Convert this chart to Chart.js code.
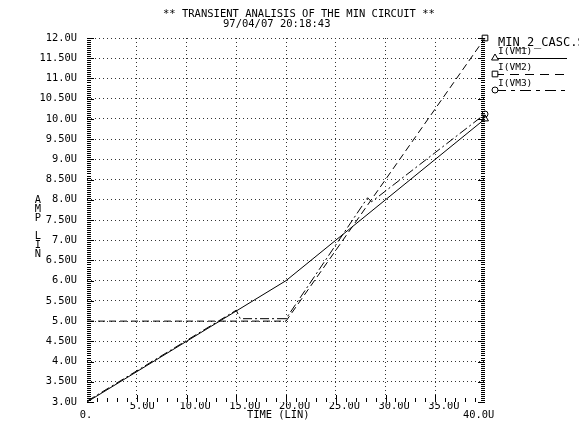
<!DOCTYPE html>
<html>
<head>
<meta charset="utf-8">
<script src="https://cdn.jsdelivr.net/npm/chart.js@4.4.1/dist/chart.umd.min.js"></script>
<style>
  html, body { margin: 0; padding: 0; background: #fff; }
  #wrap { width: 579px; height: 422px; }
</style>
</head>
<body>
<div id="wrap"><canvas id="plot"></canvas></div>
<script>
// time in microseconds, current in microamps
const timeVM1 = [0, 20, 40];
const ampVM1 = [3.0, 6.0, 10.0];
const timeVM2 = [0, 20, 40];
const ampVM2 = [5.0, 5.0, 12.0];
const timeVM3 = [0, 15, 15.4, 20, 28.2, 28.6, 40];
const ampVM3 = [3.02, 5.27, 5.06, 5.06, 8.05, 7.95, 10.12];

const xTickValues = [0, 5, 10, 15, 20, 25, 30, 35, 40];
const xTickLabels = ['0.', '5.0U', '10.0U', '15.0U', '20.0U', '25.0U', '30.0U', '35.0U', '40.0U'];
const yTickValues = [3, 3.5, 4, 4.5, 5, 5.5, 6, 6.5, 7, 7.5, 8, 8.5, 9, 9.5, 10, 10.5, 11, 11.5, 12];
const yTickLabels = ['3.0U', '3.50U', '4.0U', '4.50U', '5.0U', '5.50U', '6.0U', '6.50U', '7.0U', '7.50U',
  '8.0U', '8.50U', '9.0U', '9.50U', '10.0U', '10.50U', '11.0U', '11.50U', '12.0U'];

const titleLines = ['** TRANSIENT ANALISIS OF THE MIN CIRCUIT **', '97/04/07 20:18:43'];
const xTitle = 'TIME (LIN)';
const yTitle = ['A', 'M', 'P', '', 'L', 'I', 'N'];
const fileName = 'MIN_2_CASC.SW0';
const seriesNames = ['I(VM1)', 'I(VM2)', 'I(VM3)'];

const MONO = '"DejaVu Sans Mono", monospace';

function pts(t, a) {
  return t.map((v, i) => ({ x: v, y: a[i] }));
}
function endMarker(n, r) {
  return Array.from({ length: n }, (_, i) => (i === n - 1 ? r : 0));
}

const seriesStyle = [
  { dash: [], point: 'triangle', r: 4 },
  { dash: [7, 4], point: 'rect', r: 4 },
  { dash: [9, 3, 2, 3], point: 'circle', r: 3 }
];

const datasets = [
  pts(timeVM1, ampVM1),
  pts(timeVM2, ampVM2),
  pts(timeVM3, ampVM3)
].map((d, i) => ({
  label: seriesNames[i],
  data: d,
  showLine: true,
  borderColor: '#000',
  borderWidth: 1,
  borderDash: seriesStyle[i].dash,
  pointStyle: seriesStyle[i].point,
  pointRadius: endMarker(d.length, seriesStyle[i].r),
  pointBorderColor: '#000',
  pointBackgroundColor: 'rgba(0,0,0,0)',
  pointBorderWidth: 1,
  clip: false
}));

// combs, titles and the legend block on the right
const decor = {
  id: 'decor',
  afterDraw(chart) {
    const { ctx, chartArea: a, scales: { x, y } } = chart;
    ctx.save();
    ctx.strokeStyle = '#000';
    ctx.lineWidth = 1;
    ctx.setLineDash([]);
    ctx.beginPath();
    for (let i = 0; i <= 180; i++) {
      const py = Math.round(y.getPixelForValue(3 + i * 0.05)) + 0.5;
      const len = i % 10 === 0 ? 7 : 4;
      ctx.moveTo(a.left, py); ctx.lineTo(a.left + len, py);
      ctx.moveTo(a.right, py); ctx.lineTo(a.right - len, py);
    }
    for (let i = 1; i < 40; i++) {
      const px = Math.round(x.getPixelForValue(i)) + 0.5;
      const len = i % 5 === 0 ? 7 : 4;
      ctx.moveTo(px, a.bottom); ctx.lineTo(px, a.bottom - len);
    }
    ctx.stroke();

    ctx.fillStyle = '#000';
    ctx.textBaseline = 'alphabetic';
    ctx.font = '10.5px ' + MONO;
    ctx.textAlign = 'left';
    ctx.fillText(titleLines[0], 163, 17);
    ctx.fillText(titleLines[1], 223, 27);

    ctx.font = '10.4px ' + MONO;
    ctx.textAlign = 'center';
    yTitle.forEach((c, i) => ctx.fillText(c, 38, 203 + i * 9));

    ctx.fillText(xTickLabels[0], x.getPixelForValue(0) - 1, 418);
    ctx.textAlign = 'left';
    ctx.fillText(xTitle, 247, 418);
    ctx.fillText(xTickLabels[xTickLabels.length - 1], x.getPixelForValue(40) - 22, 418);

    // legend
    ctx.font = '12px ' + MONO;
    ctx.fillText(fileName, 498, 46);
    ctx.font = '9.5px ' + MONO;
    const rows = [58, 74, 90];
    chart.data.datasets.forEach((ds, i) => {
      ctx.fillText(ds.label, 498, rows[i] - 4);
      ctx.save();
      ctx.setLineDash(ds.borderDash.length ? ds.borderDash.map(v => v + 2) : []);
      ctx.beginPath();
      ctx.moveTo(495, rows[i] + 0.5);
      ctx.lineTo(567, rows[i] + 0.5);
      ctx.stroke();
      ctx.restore();
      ctx.fillStyle = '#fff';
      Chart.helpers.drawPoint(ctx, {
        pointStyle: ds.pointStyle, radius: seriesStyle[i].r, rotation: 0, borderWidth: 1
      }, 495, rows[i]);
      ctx.fillStyle = '#000';
    });
    ctx.restore();
  }
};

new Chart(document.getElementById('plot'), {
  type: 'scatter',
  data: { datasets },
  plugins: [decor],
  options: {
    responsive: true,
    maintainAspectRatio: false,
    animation: false,
    layout: { padding: { top: 38, right: 94, left: 0, bottom: 0 } },
    plugins: { legend: { display: false }, tooltip: { enabled: false } },
    scales: {
      x: {
        type: 'linear',
        min: 0,
        max: 40,
        afterBuildTicks: s => { s.ticks = xTickValues.map(v => ({ value: v })); },
        afterFit: s => { s.height = 20; },
        ticks: {
          autoSkip: false,
          maxRotation: 0,
          align: 'start',
          labelOffset: -7,
          padding: -2,
          color: '#000',
          font: { family: MONO, size: 10.4 },
          callback: (v, i) => (i === 0 || i === xTickLabels.length - 1 ? '' : xTickLabels[i])
        },
        grid: {
          drawTicks: false,
          lineWidth: 1,
          color: c => (c.tick && (c.tick.value === 0 || c.tick.value === 40) ? 'rgba(0,0,0,0)' : '#333')
        },
        border: { display: false, dash: [1, 3] }
      },
      y: {
        min: 3,
        max: 12,
        afterBuildTicks: s => { s.ticks = yTickValues.map(v => ({ value: v })); },
        afterFit: s => { s.width = 87; },
        ticks: {
          autoSkip: false,
          padding: 10,
          color: '#000',
          font: { family: MONO, size: 10.4 },
          callback: (v, i) => yTickLabels[i]
        },
        grid: {
          drawTicks: false,
          lineWidth: 1,
          color: c => (c.tick && c.tick.value === 3 ? 'rgba(0,0,0,0)' : '#333')
        },
        border: { display: false, dash: [1, 3] }
      }
    }
  }
});
</script>
</body>
</html>
